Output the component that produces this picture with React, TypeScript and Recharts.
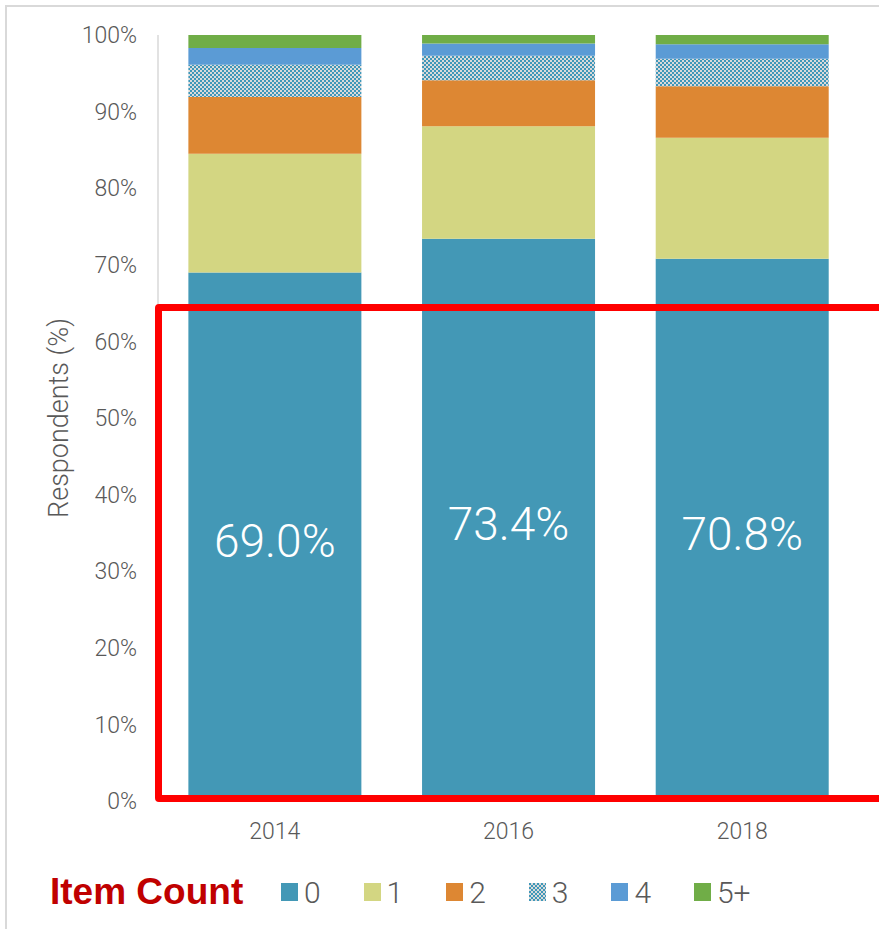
import { BarChart, Bar, XAxis, YAxis, LabelList } from "recharts";

const years = ["2014", "2016", "2018"];
const zero = [69.0, 73.4, 70.8];
const one = [15.5, 14.7, 15.8];
const two = [7.4, 6.0, 6.7];
const three = [4.2, 3.2, 3.6];
const four = [2.2, 1.6, 1.9];
const fivePlus = [1.7, 1.1, 1.2];
const yTicks = [0, 10, 20, 30, 40, 50, 60, 70, 80, 90, 100];

const seriesKeys = ["0", "1", "2", "3", "4", "5+"];
const seriesFill = ["#4398B6", "#D3D682", "#DD8733", "url(#checker)", "#5B9BD5", "#70AD47"];

const data = years.map((y, i) => ({
  year: y,
  "0": zero[i],
  "1": one[i],
  "2": two[i],
  "3": three[i],
  "4": four[i],
  "5+": fivePlus[i],
}));

const font = "Roboto, 'Open Sans', sans-serif";

function CheckerDef({ id }: { id: string }) {
  return (
    <defs>
      <pattern id={id} width="4" height="4" patternUnits="userSpaceOnUse">
        <rect width="4" height="4" fill="#DADADA" />
        <rect x="0" y="0" width="2" height="2" fill="#3F97B9" />
        <rect x="2" y="2" width="2" height="2" fill="#3F97B9" />
      </pattern>
    </defs>
  );
}

function CenterLabel(props: any) {
  const { x, y, width, height, value } = props;
  return (
    <text
      x={x + width / 2}
      y={y + height / 2 + 4}
      fill="#fff"
      fontSize={46}
      fontWeight={300}
      fontFamily={font}
      textAnchor="middle"
      dominantBaseline="central"
    >
      {Number(value).toFixed(1)}%
    </text>
  );
}

function ItemLegend() {
  return (
    <div style={{ position: "absolute", left: 50, top: 871, display: "flex", alignItems: "center" }}>
      <span
        style={{
          fontFamily: "'Liberation Sans', Arial, sans-serif",
          fontWeight: 700,
          fontSize: 37,
          color: "#C00000",
          display: "inline-block",
          width: 231,
          whiteSpace: "nowrap",
        }}
      >
        Item Count
      </span>
      {seriesKeys.map((k, i) => (
        <div key={k} style={{ display: "flex", alignItems: "center", width: 82.6 }}>
          <svg width={17} height={18} style={{ marginRight: 6 }}>
            <CheckerDef id={`lg-checker-${i}`} />
            <rect width={17} height={18} fill={i === 3 ? `url(#lg-checker-${i})` : seriesFill[i]} />
          </svg>
          <span style={{ fontFamily: font, fontWeight: 300, fontSize: 30, color: "#595959" }}>{k}</span>
        </div>
      ))}
    </div>
  );
}

export default function App() {
  return (
    <div style={{ position: "absolute", left: 0, top: 0, width: 879, height: 929, overflow: "hidden", background: "#fff" }}>
      <div
        style={{
          position: "absolute",
          left: 5,
          top: 5,
          width: 900,
          height: 950,
          borderLeft: "2px solid #D9D9D9",
          borderTop: "2px solid #D9D9D9",
        }}
      />
      <BarChart
        width={879}
        height={929}
        data={data}
        margin={{ top: 35, right: 20, bottom: 88, left: 45 }}
        barCategoryGap="13%"
      >
        <CheckerDef id="checker" />
        <XAxis
          dataKey="year"
          height={40}
          tickLine={false}
          tickSize={0}
          tickMargin={22}
          axisLine={{ stroke: "#D9D9D9", strokeWidth: 1.5 }}
          tick={{ fill: "#595959", fontSize: 23, fontFamily: font, fontWeight: 300 }}
        />
        <YAxis
          width={113}
          domain={[0, 100]}
          ticks={yTicks}
          interval={0}
          tickLine={false}
          tickSize={0}
          tickMargin={21}
          axisLine={{ stroke: "#D9D9D9", strokeWidth: 1.5 }}
          tickFormatter={(v: number) => `${v}%`}
          tick={{ fill: "#595959", fontSize: 23, fontFamily: font, fontWeight: 300 }}
          label={{
            value: "Respondents (%)",
            angle: -90,
            position: "insideLeft",
            offset: 13,
            style: { textAnchor: "middle", fill: "#595959", fontSize: 27, fontFamily: font, fontWeight: 300 },
          }}
        />
        {seriesKeys.map((k, i) => (
          <Bar key={k} dataKey={k} stackId="a" fill={seriesFill[i]} isAnimationActive={false}>
            {i === 0 && <LabelList dataKey="0" content={CenterLabel} />}
          </Bar>
        ))}
      </BarChart>
      <div
        style={{
          position: "absolute",
          left: 155,
          top: 304,
          width: 760,
          height: 498,
          boxSizing: "border-box",
          border: "7px solid #FF0000",
          borderRadius: 4,
          pointerEvents: "none",
        }}
      />
      <ItemLegend />
    </div>
  );
}
